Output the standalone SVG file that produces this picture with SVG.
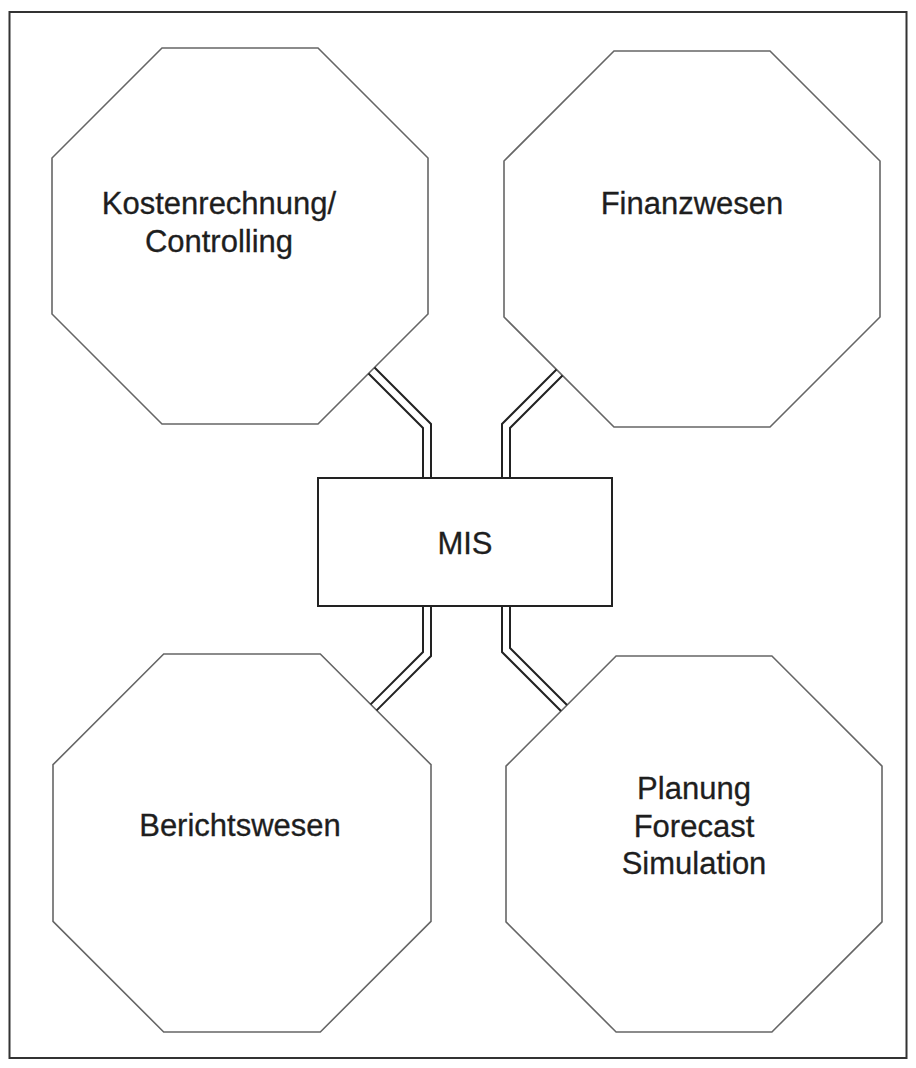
<svg xmlns="http://www.w3.org/2000/svg" width="916" height="1068" viewBox="0 0 916 1068">
  <style>
    .frame { fill: none; stroke: #333; stroke-width: 2; }
    .oct { fill: #fff; stroke: #666; stroke-width: 1.6; stroke-linejoin: miter; }
    .box { fill: #fff; stroke: #222; stroke-width: 2; }
    .pipe { fill: none; stroke: #222; stroke-width: 2; stroke-linejoin: miter; }
    .label { font-family: "Liberation Sans", Arial, sans-serif; font-size: 31px; fill: #1e1e1e; stroke: #1e1e1e; stroke-width: 0.3; text-anchor: middle; }
  </style>
  <rect width="916" height="1068" fill="#fff"/>
  <rect class="frame" x="9.5" y="12" width="897" height="1046"/>

  <g id="kostenrechnung">
    <polygon class="oct" points="162,48 318,48 428,158 428,314 318,424 162,424 52,314 52,158"/>
    <text class="label" x="219" y="214">Kostenrechnung/</text>
    <text class="label" x="219" y="252">Controlling</text>
  </g>

  <g id="finanzwesen">
    <polygon class="oct" points="614,51 770,51 880,161 880,317 770,427 614,427 504,317 504,161"/>
    <text class="label" x="692" y="214">Finanzwesen</text>
  </g>

  <g id="berichtswesen">
    <polygon class="oct" points="163.7,654 320.3,654 431,764.7 431,921.3 320.3,1032 163.7,1032 53,921.3 53,764.7"/>
    <text class="label" x="240" y="836">Berichtswesen</text>
  </g>

  <g id="planung">
    <polygon class="oct" points="616.1,656 771.9,656 882,766.1 882,921.9 771.9,1032 616.1,1032 506,921.9 506,766.1"/>
    <text class="label" x="694" y="799">Planung</text>
    <text class="label" x="694" y="837">Forecast</text>
    <text class="label" x="694" y="874">Simulation</text>
  </g>

  <g id="mis">
    <rect class="box" x="318" y="478" width="294" height="128"/>
    <text class="label" x="465" y="554">MIS</text>
  </g>

  <g id="connectors">
    <!-- Kostenrechnung to MIS -->
    <polyline class="pipe" points="374.5,367.5 431,424 431,478"/>
    <polyline class="pipe" points="368.5,373.5 423,428 423,478"/>
    <!-- Finanzwesen to MIS -->
    <polyline class="pipe" points="556.5,369.5 502,424 502,478"/>
    <polyline class="pipe" points="562.5,375.5 510,428 510,478"/>
    <!-- MIS to Berichtswesen -->
    <polyline class="pipe" points="423,606 423,652 370.6,704.4"/>
    <polyline class="pipe" points="431,606 431,656 376.6,710.4"/>
    <!-- MIS to Planung -->
    <polyline class="pipe" points="502,606 502,652 561,711"/>
    <polyline class="pipe" points="510,606 510,648 567,705"/>
  </g>
</svg>
